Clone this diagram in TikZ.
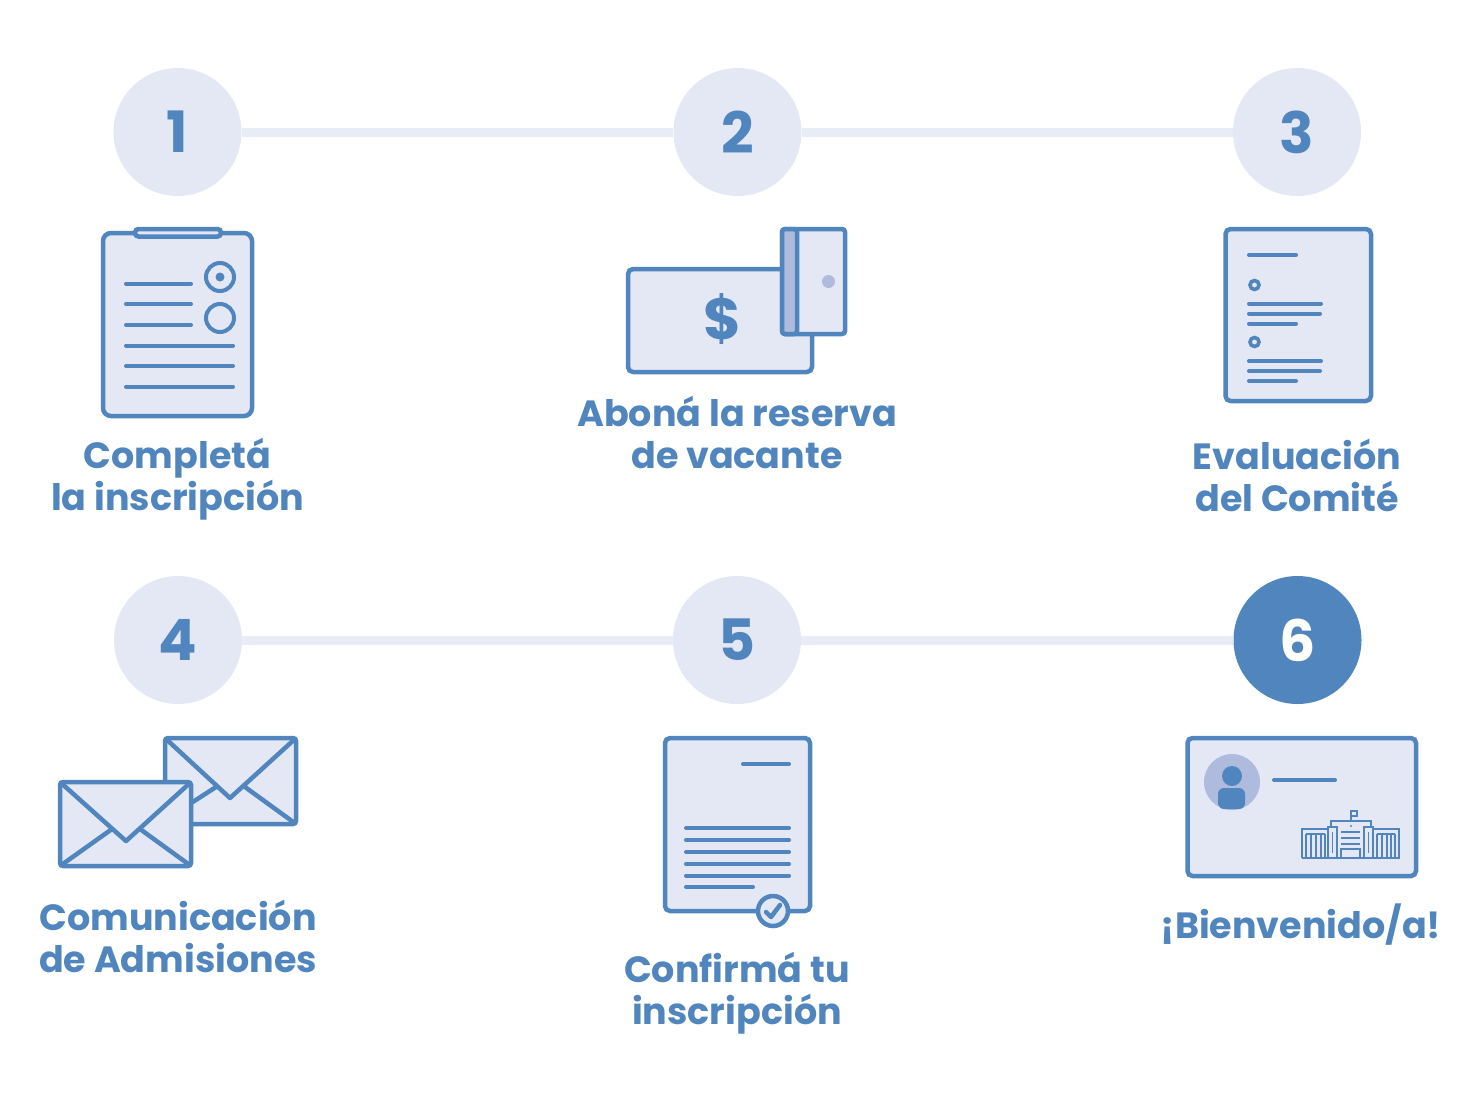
\documentclass[tikz,border=0pt]{standalone}
\usepackage{fontspec}
\setmainfont{Poppins}[BoldFont={Poppins Bold}]
\definecolor{bl}{HTML}{5085BE}
\definecolor{lt}{HTML}{E3E8F4}
\definecolor{md}{HTML}{AEBBDD}
\definecolor{ln}{HTML}{E8ECF7}
\tikzset{
 stepnum/.style={circle,fill=lt,minimum size=128pt,inner sep=0pt,text=bl,font=\fontsize{57}{57}\selectfont\bfseries},
 joinline/.style={ln,line width=9pt},
 captxt/.style={text=bl,font=\fontsize{36.5}{42}\selectfont\bfseries,align=center,inner sep=0pt},
 shapeb/.style={draw=bl,fill=lt,line width=4.5pt,rounded corners=5pt},
 rowl/.style={draw=bl,line width=4pt,line cap=round},
 thinb/.style={draw=bl,line width=1.3pt},
}
\begin{document}
\begin{tikzpicture}[x=1pt,y=-1pt]
\useasboundingbox (0,0) rectangle (1469,1101);
% connectors and step circles
\node[stepnum] (s1) at (177.5,132) {1};
\node[stepnum] (s2) at (737.5,132) {2};
\node[stepnum] (s3) at (1297,132) {3};
\node[stepnum] (s4) at (178,640) {4};
\node[stepnum] (s5) at (737,640) {5};
\node[stepnum,fill=bl,text=white] (s6) at (1297.5,640) {6};
\draw[joinline] (s1) -- (s2);
\draw[joinline] (s2) -- (s3);
\draw[joinline] (s4) -- (s5);
\draw[joinline] (s5) -- (s6);
% captions
\node[captxt] (c1) at (177.5,479) {Completá\\la inscripción};
\node[captxt] (c2) at (737,432) {Aboná la reserva\\de vacante};
\node[captxt] (c3) at (1297,475.5) {Evaluación\\del Comité};
\node[captxt] (c4) at (178,936) {Comunicación\\de Admisiones};
\node[captxt] (c5) at (737,993) {Confirmá tu\\inscripción};
\node[captxt] (c6) at (1301,925) {¡Bienvenido/a!};
% clipboard
\draw[shapeb,rounded corners=8pt] (103,233) rectangle (252,416);
\draw[shapeb,rounded corners=3.5pt] (135,229) rectangle (221,236.5);
\draw[bl,line width=4pt] (220,277) circle (14);
\fill[bl] (220,277) circle (4.5);
\draw[bl,line width=4pt] (220,318) circle (14);
\foreach \y in {283.5,304,325} \draw[rowl] (126,\y) -- (191,\y);
\foreach \y in {345.5,366,386.5} \draw[rowl] (126,\y) -- (233,\y);
% bill and card
\draw[shapeb] (628,269) rectangle (812,372);
\node[text=bl,font=\fontsize{58}{58}\selectfont\bfseries,inner sep=0pt] (dollar) at (723,319) {\$};
\draw[shapeb,rounded corners=3pt] (782,229) rectangle (845,334);
\draw[draw=bl,fill=md,line width=4.5pt,rounded corners=3pt] (782,229) rectangle (797,334);
\fill[md] (828.5,281.5) circle (6.5);
% document 3
\draw[shapeb] (1225.5,229) rectangle (1371,401);
\draw[rowl] (1249,255) -- (1296,255);
\foreach \y in {285,342} \draw[bl,line width=3.6pt] (1254.5,\y) circle (4.5);
\draw[rowl] (1249,303.5) -- (1321,303.5);
\draw[rowl] (1249,313.5) -- (1320,313.5);
\draw[rowl] (1249,323.5) -- (1296,323.5);
\draw[rowl] (1249,361) -- (1321,361);
\draw[rowl] (1249,371) -- (1320,371);
\draw[rowl] (1249,381) -- (1296,381);
% envelopes
\draw[shapeb,rounded corners=3pt] (165,738) rectangle (296,824);
\draw[bl,line width=4.5pt,line join=round] (165,738) -- (230,798) -- (296,738);
\draw[bl,line width=4.5pt] (296,824) -- (245,787);
\draw[bl,line width=4.5pt] (216,787) -- (185,807);
\draw[shapeb,rounded corners=3pt] (60,782) rectangle (191,866);
\draw[bl,line width=4.5pt,line join=round] (60,782) -- (126,841) -- (191,782);
\draw[bl,line width=4.5pt] (60,866) -- (112,829);
\draw[bl,line width=4.5pt] (191,866) -- (140,829);
% document 5
\draw[shapeb] (665,738) rectangle (810,911);
\draw[rowl] (743,764) -- (789,764);
\foreach \y in {828,840,852,864,875.5} \draw[rowl] (686,\y) -- (789,\y);
\draw[rowl] (686,887) -- (753,887);
\draw[bl,fill=lt,line width=4.5pt] (773,911) circle (15);
\draw[bl,line width=4.5pt,line cap=round,line join=round] (766,912) -- (771,917) -- (780,905);
% welcome card
\draw[shapeb] (1187.5,738) rectangle (1416,876);
\fill[md] (1232,782) circle (28);
\fill[bl] (1232,776) circle (10);
\fill[bl,rounded corners=6pt] (1218,788) rectangle (1245,809);
\draw[rowl] (1274,780) -- (1335,780);
% building
\draw[thinb] (1302,858) -- (1399,858) -- (1399,829) -- (1373,829) (1302,858) -- (1302,829) -- (1328,829);
\draw[thinb] (1328,858) -- (1328,827) -- (1337,827) -- (1337,858);
\draw[thinb] (1364,858) -- (1364,827) -- (1373,827) -- (1373,858);
\draw[thinb] (1331,827) -- (1331,821) -- (1371,821) -- (1371,827);
\foreach \x in {1306,1311,1316,1321,1325,1377,1382,1387,1391,1395} \draw[thinb] (\x,834) -- (\x,858);
\draw[thinb] (1306,834) -- (1325,834) (1377,834) -- (1395,834);
\draw[thinb] (1332.5,832) -- (1332.5,853);
\draw[thinb] (1368.5,832) -- (1368.5,853);
\draw[thinb] (1341,832) -- (1360,832) (1341,838) -- (1360,838) (1341,844) -- (1360,844);
\draw[thinb] (1341,858) -- (1341,849) -- (1360,849) -- (1360,858);
\fill[bl] (1351,826) circle (1.2);
\draw[thinb] (1351,821) -- (1351,811) -- (1357,811) -- (1357,816) -- (1351,816);
\end{tikzpicture}
\end{document}
